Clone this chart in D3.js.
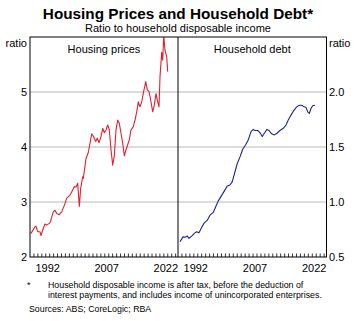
<!DOCTYPE html>
<html><head><meta charset="utf-8">
<script src="https://cdn.jsdelivr.net/npm/d3@7"></script>
<style>body{margin:0;background:#fff}svg{font-family:"Liberation Sans",Arial,sans-serif}</style>
</head><body><svg id="c" width="357" height="321"></svg>
<script>
// Housing prices (ratio to household disposable income)
const priceYears = [1988.25,1989.27,1989.52,1989.96,1990.54,1990.79,1991.23,1991.81,1992.24,1993.08,
  1993.92,1994.35,1994.78,1995.44,1996.05,1996.89,1997.32,1997.98,1998.42,1998.85,
  1999.26,1999.69,2000.12,2000.53,2000.88,2001.39,2001.54,2002.23,2002.81,2003.68,
  2004.08,2004.69,2005.10,2005.53,2006.04,2006.47,2006.88,2007.31,2007.74,2008.15,
  2008.58,2009.01,2009.42,2009.85,2010.28,2010.69,2011.12,2011.55,2011.96,2012.39,
  2012.82,2013.23,2013.66,2014.24,2014.68,2015.11,2015.52,2015.95,2016.38,2016.79,
  2017.40,2017.80,2018.23,2018.67,2019.17,2019.58,2020.01,2020.44,2020.77,2021.03,
  2021.46,2021.71,2021.97,2022.30,2022.73,2022.98];
const priceValues = [2.43,2.55,2.56,2.46,2.46,2.39,2.49,2.60,2.58,2.62,
  2.82,2.85,2.79,2.77,2.82,2.97,3.07,3.11,3.16,3.22,
  3.28,3.27,3.34,2.92,3.25,3.46,3.43,3.79,3.90,4.24,
  4.20,4.10,4.16,4.08,4.19,4.34,4.26,4.31,4.40,4.31,
  3.95,3.67,3.84,4.31,4.49,4.43,4.25,4.07,3.84,3.95,
  4.04,4.13,4.31,4.37,4.49,4.64,4.82,4.73,4.82,4.98,
  5.19,5.04,5.01,4.85,4.64,4.76,4.97,4.82,4.73,5.28,
  5.72,5.58,6.02,5.76,5.64,5.37];
// Household debt (ratio to household disposable income)
const debtYears = [1988.5,1989.34,1989.77,1990.35,1990.78,1991.47,1992.13,1992.73,1993.32,1994.0,
  1994.66,1995.42,1996.10,1996.94,1997.54,1998.20,1999.06,1999.90,2000.48,2001.16,
  2001.75,2002.43,2003.01,2003.70,2004.38,2005.14,2005.80,2006.48,2007.06,2007.49,
  2008.18,2008.76,2009.34,2009.85,2010.53,2011.04,2011.72,2012.38,2013.06,2013.82,
  2014.66,2015.34,2015.92,2016.61,2017.29,2018.05,2018.71,2019.32,2019.97,2020.41,
  2020.84,2021.24,2021.67,2022.10,2022.68];
const debtValues = [0.64,0.685,0.68,0.69,0.67,0.69,0.715,0.73,0.72,0.77,
  0.81,0.835,0.88,0.905,0.957,1.01,1.06,1.11,1.145,1.155,
  1.185,1.275,1.35,1.41,1.48,1.52,1.565,1.64,1.66,1.65,
  1.65,1.63,1.595,1.625,1.66,1.65,1.62,1.61,1.625,1.65,
  1.67,1.70,1.745,1.79,1.83,1.865,1.88,1.88,1.865,1.86,
  1.82,1.805,1.85,1.875,1.88];
const leftTicks = [2,3,4,5];
const rightTicks = [0.5,1.0,1.5,2.0];
const yearLabels = [1992,2007,2022];

const priceData = priceYears.map((y,i)=>({x:y,v:priceValues[i]}));
const debtData = debtYears.map((y,i)=>({x:y,v:debtValues[i]}));

const svg = d3.select("#c");
const pTop = 37, pBot = 257, L0 = 30, L1 = 178, R1 = 326.5;
const xL = d3.scaleLinear().domain([1988,2025.6]).range([L0,L1]);
const xR = d3.scaleLinear().domain([1988,2025.6]).range([L1,R1]);
const yL = d3.scaleLinear().domain([2,6]).range([pBot,pTop]);
const yR = d3.scaleLinear().domain([0.5,2.5]).range([pBot,pTop]);

svg.append("text").attr("x",178).attr("y",19).attr("text-anchor","middle")
  .attr("font-size",15.3).attr("font-weight","bold").text("Housing Prices and Household Debt*");
svg.append("text").attr("x",178).attr("y",32).attr("text-anchor","middle")
  .attr("font-size",11).text("Ratio to household disposable income");

const grid = svg.append("g");
leftTicks.filter(t=>t>2).forEach(t=>{
  grid.append("line").attr("x1",L0).attr("x2",R1).attr("y1",yL(t)).attr("y2",yL(t))
    .attr("stroke","#b8b8b8").attr("stroke-width",1);
});

svg.append("clipPath").attr("id","cl").append("rect").attr("x",L0).attr("y",pTop).attr("width",L1-L0).attr("height",pBot-pTop);
svg.append("clipPath").attr("id","cr").append("rect").attr("x",L1).attr("y",pTop).attr("width",R1-L1).attr("height",pBot-pTop);

svg.append("path").datum(priceData).attr("clip-path","url(#cl)")
  .attr("fill","none").attr("stroke","#e2202f").attr("stroke-width",1.1).attr("stroke-linejoin","round")
  .attr("d",d3.line().x(d=>xL(d.x)).y(d=>yL(d.v)));
svg.append("path").datum(debtData).attr("clip-path","url(#cr)")
  .attr("fill","none").attr("stroke","#1a2590").attr("stroke-width",1.1).attr("stroke-linejoin","round")
  .attr("d",d3.line().x(d=>xR(d.x)).y(d=>yR(d.v)));

const yrs = d3.range(1989,2026);
[xL,xR].forEach(xs=>{
  yrs.forEach(y=>{
    const px = xs(y);
    svg.append("line").attr("x1",px).attr("x2",px).attr("y1",pBot).attr("y2",pBot-3.5)
      .attr("stroke","#000").attr("stroke-width",0.8);
  });
  yearLabels.forEach(y=>{
    svg.append("text").attr("x",xs(y+0.5)).attr("y",272).attr("text-anchor","middle")
      .attr("font-size",11).text(y);
  });
});

svg.append("rect").attr("x",L0).attr("y",pTop).attr("width",R1-L0).attr("height",pBot-pTop)
  .attr("fill","none").attr("stroke","#000").attr("stroke-width",1);
svg.append("line").attr("x1",L1).attr("x2",L1).attr("y1",pTop).attr("y2",pBot).attr("stroke","#000").attr("stroke-width",1);

leftTicks.forEach(t=>{
  svg.append("text").attr("x",27).attr("y",yL(t)+4).attr("text-anchor","end").attr("font-size",11).text(t);
});
rightTicks.forEach(t=>{
  svg.append("text").attr("x",329).attr("y",yR(t)+4).attr("text-anchor","start").attr("font-size",11).text(t.toFixed(1));
});
svg.append("text").attr("x",27).attr("y",47).attr("text-anchor","end").attr("font-size",11).text("ratio");
svg.append("text").attr("x",329).attr("y",47).attr("text-anchor","start").attr("font-size",11).text("ratio");

svg.append("text").attr("x",(L0+L1)/2).attr("y",53).attr("text-anchor","middle").attr("font-size",11).text("Housing prices");
svg.append("text").attr("x",(L1+R1)/2).attr("y",53).attr("text-anchor","middle").attr("font-size",11).text("Household debt");

svg.append("text").attr("x",27).attr("y",288).attr("font-size",9).text("*");
svg.append("text").attr("x",48).attr("y",288).attr("font-size",8.8).text("Household disposable income is after tax, before the deduction of");
svg.append("text").attr("x",48).attr("y",298).attr("font-size",8.8).text("interest payments, and includes income of unincorporated enterprises.");
svg.append("text").attr("x",29).attr("y",312).attr("font-size",8.8).text("Sources: ABS; CoreLogic; RBA");
</script></body></html>
